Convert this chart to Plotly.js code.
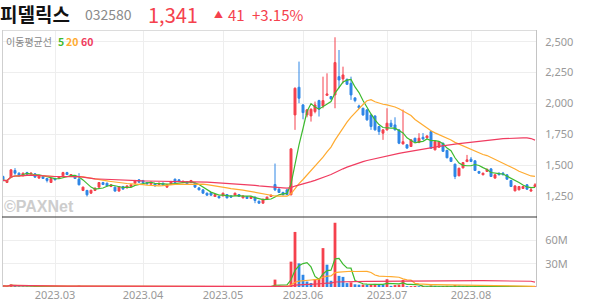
<!DOCTYPE html>
<html><head><meta charset="utf-8">
<script src="https://cdn.plot.ly/plotly-3.0.1.min.js"></script>
<style>html,body{margin:0;padding:0;background:#fff;}#chart{width:594px;height:304px;}</style>
</head><body><div id="chart"></div>
<script>
// ---- data ----
const dates = [
"2023-02-10","2023-02-13","2023-02-14","2023-02-15","2023-02-16","2023-02-17","2023-02-20","2023-02-21","2023-02-22","2023-02-23","2023-02-24","2023-02-27","2023-02-28",
"2023-03-02","2023-03-03","2023-03-06","2023-03-07","2023-03-08","2023-03-09","2023-03-10","2023-03-13","2023-03-14","2023-03-15","2023-03-16","2023-03-17","2023-03-20","2023-03-21","2023-03-22","2023-03-23","2023-03-24","2023-03-27","2023-03-28","2023-03-29","2023-03-30","2023-03-31",
"2023-04-03","2023-04-04","2023-04-05","2023-04-06","2023-04-07","2023-04-10","2023-04-11","2023-04-12","2023-04-13","2023-04-14","2023-04-17","2023-04-18","2023-04-19","2023-04-20","2023-04-21","2023-04-24","2023-04-25","2023-04-26","2023-04-27","2023-04-28",
"2023-05-02","2023-05-03","2023-05-04","2023-05-08","2023-05-09","2023-05-10","2023-05-11","2023-05-12","2023-05-15","2023-05-16","2023-05-17","2023-05-18","2023-05-19","2023-05-22","2023-05-23","2023-05-24","2023-05-25","2023-05-26","2023-05-30","2023-05-31",
"2023-06-01","2023-06-02","2023-06-05","2023-06-07","2023-06-08","2023-06-09","2023-06-12","2023-06-13","2023-06-14","2023-06-15","2023-06-16","2023-06-19","2023-06-20","2023-06-21","2023-06-22","2023-06-23","2023-06-26","2023-06-27","2023-06-28","2023-06-29","2023-06-30",
"2023-07-03","2023-07-04","2023-07-05","2023-07-06","2023-07-07","2023-07-10","2023-07-11","2023-07-12","2023-07-13","2023-07-14","2023-07-17","2023-07-18","2023-07-19","2023-07-20","2023-07-21","2023-07-24","2023-07-25","2023-07-26","2023-07-27","2023-07-28","2023-07-31",
"2023-08-01","2023-08-02","2023-08-03","2023-08-04","2023-08-07","2023-08-08","2023-08-09","2023-08-10","2023-08-11","2023-08-14","2023-08-16","2023-08-17","2023-08-18","2023-08-21","2023-08-22","2023-08-23","2023-08-24"];

const open  = [1408,1360,1400,1457,1435,1414,1440,1427,1430,1395,1408,1392,1360,1392,1392,1414,1440,1414,1408,1387,1295,1295,1273,1295,1322,1359,1354,1327,1322,1290,1327,1316,1327,1354,1381,
1376,1359,1346,1349,1343,1354,1322,1343,1386,1381,1359,1365,1359,1354,1316,1300,1273,1278,1246,1246,
1251,1262,1251,1257,1262,1235,1246,1230,1241,1208,1192,1224,1246,1343,1306,1279,1300,1260,1907,2131,
1988,1907,1899,1934,2023,1980,2066,2056,2069,2217,2199,2196,2163,2045,1980,1961,1948,1907,1899,1813,1759,
1786,1840,1826,1786,1672,1665,1651,1718,1683,1726,1721,1772,1624,1645,1678,1620,1560,1508,1414,1478,1529,
1548,1535,1449,1422,1449,1470,1395,1435,1435,1422,1376,1292,1300,1311,1341,1290,1327];
const high  = [1415,1380,1466,1476,1442,1440,1446,1440,1436,1418,1412,1396,1395,1398,1410,1446,1446,1428,1412,1435,1326,1300,1300,1318,1362,1365,1358,1345,1326,1330,1332,1336,1345,1380,1386,
1380,1362,1366,1352,1358,1358,1347,1372,1392,1386,1374,1368,1380,1358,1320,1304,1278,1282,1266,1250,
1277,1266,1255,1277,1266,1255,1250,1250,1245,1212,1228,1245,1262,1513,1312,1284,1304,1635,2130,2339,
1995,1955,1960,2015,2030,2217,2244,2060,2536,2433,2298,2200,2217,2050,1990,1965,1952,1910,1902,1816,1790,
1961,1867,1888,1790,1950,1668,1709,1722,1759,1760,1741,1780,1695,1695,1682,1624,1564,1512,1479,1525,1583,
1565,1539,1453,1439,1471,1474,1426,1440,1445,1426,1380,1336,1331,1331,1345,1320,1354];
const low   = [1368,1355,1395,1422,1410,1410,1420,1424,1400,1390,1388,1360,1357,1378,1388,1410,1420,1410,1388,1336,1290,1246,1268,1290,1318,1340,1330,1322,1286,1286,1302,1312,1322,1350,1358,
1355,1344,1342,1328,1340,1334,1318,1340,1354,1364,1355,1345,1355,1318,1296,1269,1253,1253,1242,1231,
1247,1231,1237,1253,1242,1231,1226,1226,1192,1188,1188,1220,1242,1290,1275,1256,1258,1255,1786,2002,
1872,1888,1853,1920,1894,1961,2060,2030,1961,2123,2163,2150,2029,2010,1955,1900,1860,1786,1780,1745,1705,
1780,1808,1782,1670,1668,1634,1647,1687,1679,1706,1717,1633,1620,1641,1608,1556,1526,1387,1410,1474,1525,
1526,1453,1431,1418,1445,1404,1391,1418,1418,1382,1323,1288,1296,1307,1300,1285,1320];
const close = [1376,1375,1462,1435,1414,1435,1424,1435,1403,1414,1392,1376,1392,1381,1408,1440,1424,1424,1392,1341,1322,1260,1297,1314,1359,1343,1332,1341,1290,1327,1306,1332,1341,1376,1362,
1359,1348,1362,1332,1354,1338,1343,1368,1359,1368,1370,1349,1376,1322,1300,1273,1257,1257,1262,1235,
1273,1235,1241,1273,1246,1251,1230,1246,1214,1192,1224,1241,1257,1300,1279,1260,1262,1632,2123,2042,
1926,1948,1953,1988,1953,2023,2077,2037,2331,2190,2231,2155,2069,2023,1964,1907,1867,1813,1786,1772,1786,
1840,1813,1786,1678,1690,1638,1705,1691,1718,1712,1737,1637,1691,1690,1612,1560,1530,1408,1475,1521,1543,
1530,1457,1435,1435,1467,1408,1422,1422,1422,1386,1327,1332,1327,1327,1305,1300,1341];
// volume in millions of shares
const volumeM = [1.5,1.0,3.5,2.0,1.0,0.9,0.8,0.6,0.8,0.7,0.6,0.8,0.7,0.5,0.6,1.2,0.8,0.5,0.6,1.8,0.9,1.0,0.6,0.5,0.9,0.6,0.5,0.4,0.5,0.5,0.4,0.4,0.4,0.7,0.6,
0.5,0.4,0.4,0.4,0.3,0.3,0.4,0.5,0.8,0.4,0.3,0.3,0.4,0.5,0.5,0.6,0.5,0.4,0.3,0.4,
0.4,0.4,0.3,0.3,0.3,0.3,0.3,0.3,0.7,0.5,0.4,0.4,0.5,9.5,2.0,1.0,1.2,32.6,70.8,30.4,
15.7,7.0,5.2,10.0,11.5,50.0,28.7,8.0,82.6,14.3,13.0,5.0,6.0,3.5,3.0,3.2,3.0,3.1,4.0,3.5,3.0,
10.0,1.5,2.5,3.0,9.0,1.0,1.2,1.3,1.0,1.2,0.8,2.0,1.5,1.0,1.2,1.5,1.0,2.5,1.8,1.2,1.5,
0.8,1.2,0.7,0.5,0.8,1.0,0.7,0.5,0.5,0.7,1.0,0.9,0.6,0.4,0.6,0.5,0.9];
const maPeriods = [5, 20, 60];
const monthTicks = ["2023-03-02","2023-04-03","2023-05-02","2023-06-01","2023-07-03","2023-08-01"];
const monthLabels = ["2023.03","2023.04","2023.05","2023.06","2023.07","2023.08"];
const priceTicks = [1250,1500,1750,2000,2250,2500];
const volTicksM = [30,60];
const volTickLabels = ["30M","60M"];

// ---- styles ----
const RED = '#f5414d', BLUE = '#2e86e6';
const MA_COLORS = ['#3dba2f', '#ffab30', '#f03c60'];
const volume = volumeM.map(v => v * 1e6);

function sma(arr, n) {
  const out = [];
  let sum = 0;
  for (let i = 0; i < arr.length; i++) {
    sum += arr[i];
    if (i >= n) sum -= arr[i - n];
    out.push(sum / Math.min(i + 1, n));
  }
  return out;
}
const volColors = volume.map((v, i) => (i === 0 || v >= volume[i - 1]) ? RED : BLUE);

const traces = [{
  type: 'candlestick', x: dates, open: open, high: high, low: low, close: close,
  xaxis: 'x', yaxis: 'y', whiskerwidth: 0, hoverinfo: 'skip',
  increasing: {line: {color: RED, width: 1}, fillcolor: RED},
  decreasing: {line: {color: BLUE, width: 1}, fillcolor: BLUE}
}, {
  type: 'bar', x: dates, y: volume, xaxis: 'x', yaxis: 'y2',
  marker: {color: volColors, line: {width: 0}}, hoverinfo: 'skip'
}];
maPeriods.forEach((p, k) => {
  traces.push({type: 'scatter', mode: 'lines', x: dates, y: sma(close, p), xaxis: 'x', yaxis: 'y',
    line: {color: MA_COLORS[k], width: 1.2}, hoverinfo: 'skip'});
  traces.push({type: 'scatter', mode: 'lines', x: dates, y: sma(volume, p), xaxis: 'x', yaxis: 'y2',
    line: {color: MA_COLORS[k], width: 1.2}, hoverinfo: 'skip'});
});

// pixel helpers for paper coordinates (plot area x 2..537, y 30..287)
const px = x => (x - 2) / 535;
const py = y => (287 - y) / 257;
const F = '"Noto Sans CJK KR", "Noto Sans", sans-serif';
function ann(text, x, y, size, color, extra) {
  return Object.assign({text: text, x: px(x), y: py(y), xref: 'paper', yref: 'paper',
    xanchor: 'left', yanchor: 'middle', showarrow: false, borderpad: 0,
    font: {family: F, size: size, color: color}}, extra || {});
}
const annotations = [
  ann('<b>피델릭스</b>', -1, 13.5, 19, '#111'),
  ann('032580', 84, 14, 14, '#8a8a8a'),
  ann('1,341', 147, 14, 20, RED),
  ann('▲', 213, 14.5, 9, RED),
  ann('41', 227, 14, 15, RED),
  ann('+3.15%', 251, 14, 15, RED),
  ann('이동평균선', 5, 41.5, 10, '#888'),
  ann('<b>5</b>', 57, 41.5, 10.5, MA_COLORS[0]),
  ann('<b>20</b>', 65, 41.5, 10.5, MA_COLORS[1]),
  ann('<b>60</b>', 80, 41.5, 10.5, MA_COLORS[2]),
  ann('<b>©PAXNet</b>', 3, 206, 16, '#cdcdcd', {font: {family: '"Liberation Sans", Arial, sans-serif', size: 16, color: '#cdcdcd'}})
];

const line = (x0, y0, x1, y1, color, w) => ({type: 'line', xref: 'paper', yref: 'paper',
  x0: px(x0), y0: py(y0), x1: px(x1), y1: py(y1), line: {color: color, width: w || 1}, layer: 'above'});
const shapes = [
  line(2, 30.5, 537, 30.5, '#dcdcdc'),
  line(2.5, 30, 2.5, 287, '#cfcfcf'),
  line(536.5, 30, 536.5, 287, '#c4c4c4'),
  line(2, 217, 537, 217, '#333', 1.2)
];

const axisFont = {family: '"Noto Sans", "Open Sans", sans-serif', size: 11, color: '#999'};
const layout = {
  width: 594, height: 304,
  margin: {l: 2, r: 57, t: 30, b: 17, pad: 0},
  paper_bgcolor: '#fff', plot_bgcolor: '#fff',
  showlegend: false, bargap: 0.3,
  xaxis: {type: 'category', range: [-0.25, 133.5], anchor: 'y2',
    tickvals: monthTicks, ticktext: monthLabels, showgrid: true, gridcolor: '#eeeeee',
    tickfont: axisFont, ticks: '', showline: false, zeroline: false,
    rangeslider: {visible: false}, fixedrange: true},
  yaxis: {domain: [70 / 257, 1], range: [1080, 2595], side: 'right', tickvals: priceTicks,
    tickformat: ',', gridcolor: '#eeeeee', tickfont: axisFont, zeroline: false,
    ticks: 'outside', ticklen: 5, tickcolor: 'rgba(0,0,0,0)', showline: false, fixedrange: true},
  yaxis2: {domain: [0, 70 / 257], range: [0, 90e6], side: 'right',
    tickvals: volTicksM.map(v => v * 1e6), ticktext: volTickLabels,
    gridcolor: '#eeeeee', tickfont: axisFont, zeroline: false,
    ticks: 'outside', ticklen: 5, tickcolor: 'rgba(0,0,0,0)', showline: false, fixedrange: true},
  annotations: annotations, shapes: shapes
};
Plotly.newPlot('chart', traces, layout, {displayModeBar: false, staticPlot: true});
</script></body></html>
